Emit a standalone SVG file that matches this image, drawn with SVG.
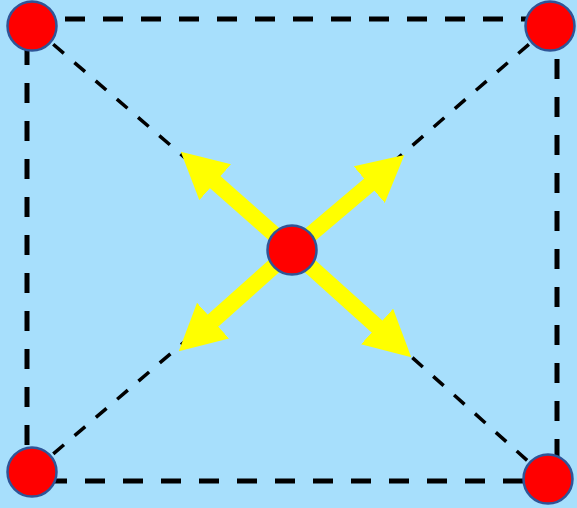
<svg xmlns="http://www.w3.org/2000/svg" width="577" height="508" viewBox="0 0 577 508">
<style>
.frame{fill:none;stroke:#000;stroke-width:5;stroke-dasharray:20 18}
.diag{fill:none;stroke:#000;stroke-width:3.5;stroke-dasharray:14 14}
.arrow{fill:none;stroke:#FFFF00;stroke-width:16;marker-end:url(#head)}
.node{fill:#FF0000;stroke:#2F5597;stroke-width:2.5}
</style>
<defs>
<marker id="head" markerUnits="userSpaceOnUse" viewBox="0 0 46 48" refX="1" refY="24" markerWidth="46" markerHeight="48" orient="auto">
<path d="M0,0 L46,24 L0,48 Z" fill="#FFFF00"/>
</marker>
</defs>
<rect width="577" height="508" fill="#A7DFFC"/>
<g id="connectors">
<rect class="frame" x="27" y="19" width="530" height="462"/>
<line class="diag" x1="32" y1="26" x2="292" y2="250"/>
<line class="diag" x1="550" y1="26" x2="292" y2="250"/>
<line class="diag" x1="32" y1="472" x2="292" y2="250"/>
<line class="diag" x1="548" y1="479" x2="292" y2="250"/>
<line class="arrow" x1="292" y1="250" x2="214.5" y2="181.5"/>
<line class="arrow" x1="292" y1="250" x2="370" y2="184"/>
<line class="arrow" x1="292" y1="250" x2="212.3" y2="321.3"/>
<line class="arrow" x1="292" y1="250" x2="377.8" y2="327.2"/>
</g>
<g id="node-tl"><circle class="node" cx="32" cy="26" r="24.5"/></g>
<g id="node-tr"><circle class="node" cx="550" cy="26" r="24.5"/></g>
<g id="node-bl"><circle class="node" cx="32" cy="472" r="24.5"/></g>
<g id="node-br"><circle class="node" cx="548" cy="479" r="24.5"/></g>
<g id="node-c"><circle class="node" cx="292" cy="250" r="24.5"/></g>
</svg>
